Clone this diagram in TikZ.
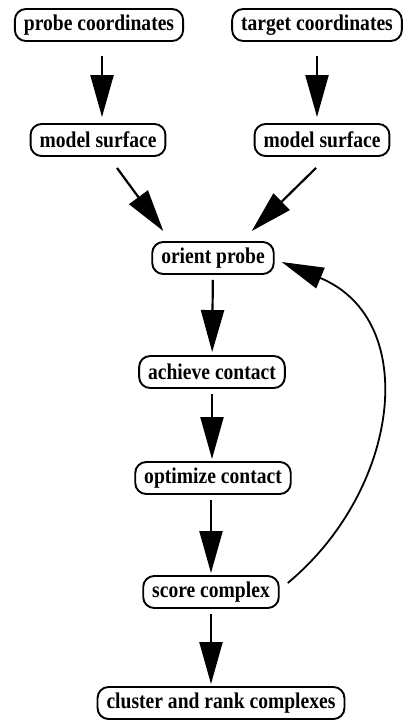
\documentclass[tikz,border=0pt]{standalone}
\usepackage{fontspec}
\setmainfont{Liberation Serif}[FakeStretch=0.87]
\usetikzlibrary{arrows.meta}
\tikzset{
  box/.style={draw, line width=1.9pt, rounded corners=11pt, minimum height=32pt,
    inner xsep=9pt, inner ysep=2pt, font=\fontsize{22.5}{24}\selectfont\bfseries},
  arr/.style={line width=2.2pt, -{Triangle[width=23pt,length=42pt]}},
}
\begin{document}
\begin{tikzpicture}[x=1pt,y=-1pt]
\useasboundingbox (0,0) rectangle (406,721);
\node[box] (pc) at (99,25) {probe coordinates};
\node[box] (tc) at (317,25) {target coordinates};
\node[box] (ms1) at (98,140) {model surface};
\node[box] (ms2) at (322,140) {model surface};
\node[box] (op) at (213,258) {orient probe};
\node[box] (ac) at (212,372) {achieve contact};
\node[box] (oc) at (213,478) {optimize contact};
\node[box] (sc) at (211,592) {score complex};
\node[box] (cr) at (221,703) {cluster and rank complexes};
\draw[arr, shorten <=14pt, shorten >=6pt] ([xshift=3pt]pc.south) -- ([xshift=4pt]ms1.north);
\draw[arr, shorten <=14pt, shorten >=6pt] (tc.south) -- (tc.south |- ms2.north);
\draw[arr] ([xshift=19pt,yshift=-11pt]ms1.south) -- ([xshift=12pt,yshift=10pt]op.north west);
\draw[arr] ([xshift=-6pt,yshift=-11pt]ms2.south) -- ([xshift=-23pt,yshift=10pt]op.north east);
\draw[arr, shorten <=5pt, shorten >=3pt] (op) -- (ac);
\draw[arr, shorten <=5pt, shorten >=2pt] (ac) -- (ac.south |- oc.north);
\draw[arr, shorten <=5pt, shorten >=2pt] (oc.south -| sc.north) -- (sc);
\draw[arr, shorten <=5pt, shorten >=2pt] (sc.south) -- (sc.south |- cr.north);
\draw[line width=1.8pt, -{Triangle[width=22pt,length=42pt]}]
  ([xshift=8pt,yshift=9pt]sc.east) .. controls +(112,-93) and +(140,58) .. ([xshift=7pt,yshift=-4pt]op.east);
\end{tikzpicture}
\end{document}
